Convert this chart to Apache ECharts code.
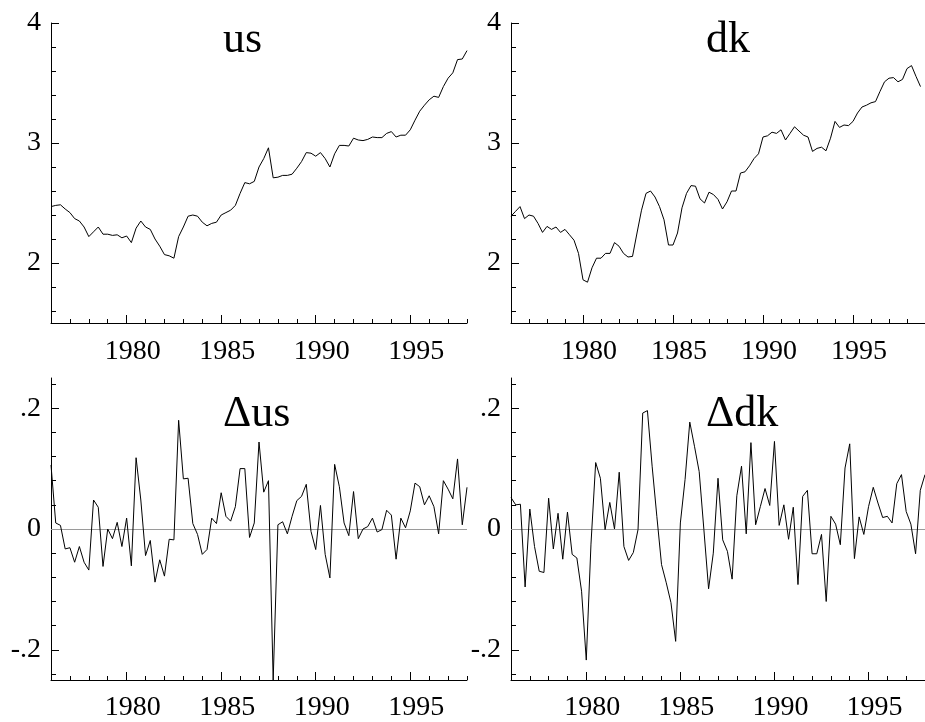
<!DOCTYPE html>
<html><head><meta charset="utf-8">
<script src="https://cdn.jsdelivr.net/npm/echarts@6/dist/echarts.min.js"></script>
<style>html,body{margin:0;padding:0;background:#fff}#c{width:925px;height:722px}</style>
</head><body><div id="c"></div>
<script>
const startYear = 1976;
const us = [2.47, 2.48, 2.485, 2.45, 2.42, 2.37, 2.35, 2.30, 2.22, 2.26,
  2.30, 2.24, 2.24, 2.23, 2.235, 2.21, 2.225, 2.17, 2.29, 2.35,
  2.30, 2.28, 2.20, 2.14, 2.07, 2.06, 2.04, 2.22, 2.30, 2.39,
  2.40, 2.39, 2.34, 2.31, 2.33, 2.34, 2.40, 2.42, 2.44, 2.48,
  2.58, 2.67, 2.66, 2.68, 2.80, 2.87, 2.96, 2.71, 2.715, 2.73,
  2.73, 2.74, 2.79, 2.845, 2.92, 2.915, 2.89, 2.92, 2.87, 2.80,
  2.91, 2.98, 2.98, 2.975, 3.04, 3.025, 3.02, 3.03, 3.05, 3.045,
  3.045, 3.08, 3.095, 3.05, 3.065, 3.065, 3.11, 3.19, 3.265, 3.315,
  3.36, 3.39, 3.38, 3.47, 3.54, 3.585, 3.695, 3.70, 3.77];
const dk = [2.39, 2.43, 2.47, 2.37, 2.40, 2.39, 2.33, 2.255, 2.305, 2.28,
  2.30, 2.255, 2.28, 2.235, 2.19, 2.08, 1.86, 1.84, 1.96, 2.04,
  2.04, 2.08, 2.08, 2.17, 2.14, 2.08, 2.05, 2.055, 2.25, 2.44,
  2.58, 2.60, 2.55, 2.47, 2.36, 2.15, 2.15, 2.25, 2.46, 2.58,
  2.645, 2.64, 2.535, 2.50, 2.59, 2.57, 2.53, 2.45, 2.51, 2.60,
  2.60, 2.75, 2.76, 2.81, 2.87, 2.91, 3.05, 3.06, 3.09, 3.08,
  3.11, 3.025, 3.08, 3.135, 3.10, 3.065, 3.05, 2.93, 2.955, 2.965,
  2.935, 3.04, 3.18, 3.13, 3.15, 3.145, 3.18, 3.25, 3.30, 3.315,
  3.335, 3.345, 3.43, 3.51, 3.54, 3.545, 3.51, 3.53, 3.62, 3.645,
  3.555, 3.47];
const dus = [0.106, 0.01, 0.006, -0.033, -0.031, -0.055, -0.029, -0.055, -0.068, 0.048,
  0.036, -0.062, 0, -0.016, 0.011, -0.029, 0.018, -0.061, 0.118, 0.048,
  -0.044, -0.019, -0.088, -0.051, -0.078, -0.017, -0.018, 0.18, 0.083, 0.084,
  0.009, -0.009, -0.042, -0.034, 0.018, 0.009, 0.06, 0.021, 0.013, 0.037,
  0.10, 0.10, -0.014, 0.01, 0.144, 0.061, 0.08, -0.25, 0.007, 0.012,
  -0.008, 0.021, 0.047, 0.054, 0.074, -0.004, -0.034, 0.039, -0.042, -0.081,
  0.107, 0.07, 0.01, -0.011, 0.062, -0.016, 0, 0.004, 0.018, -0.005,
  -0.001, 0.031, 0.023, -0.05, 0.018, 0.002, 0.03, 0.076, 0.07, 0.04,
  0.055, 0.037, -0.008, 0.08, 0.066, 0.05, 0.116, 0.007, 0.069];
const ddk = [0.052, 0.04, 0.041, -0.096, 0.033, -0.029, -0.07, -0.072, 0.051, -0.033,
  0.026, -0.05, 0.028, -0.042, -0.048, -0.103, -0.217, -0.025, 0.11, 0.084,
  -0.001, 0.044, 0, 0.094, -0.029, -0.052, -0.039, -0.001, 0.192, 0.196,
  0.104, 0.021, -0.059, -0.089, -0.122, -0.186, 0.01, 0.082, 0.177, 0.137,
  0.095, -0.001, -0.099, -0.04, 0.084, -0.018, -0.037, -0.083, 0.055, 0.104,
  -0.008, 0.143, 0.007, 0.037, 0.067, 0.039, 0.145, 0.006, 0.04, -0.017,
  0.036, -0.092, 0.054, 0.064, -0.041, -0.041, -0.009, -0.12, 0.021, 0.008,
  -0.026, 0.101, 0.141, -0.049, 0.02, -0.009, 0.037, 0.069, 0.043, 0.019,
  0.021, 0.01, 0.075, 0.09, 0.029, 0.008, -0.041, 0.064, 0.09];
const levelMajor = [2, 3, 4];
const levelMinor = [1.6, 1.8, 2.2, 2.4, 2.6, 2.8, 3.2, 3.4, 3.6, 3.8];
const diffMajor = [-0.2, 0, 0.2];
const diffMinor = [-0.24, -0.16, -0.12, -0.08, -0.04, 0.04, 0.08, 0.12, 0.16, 0.24];
const yearMajor = [1980, 1985, 1990, 1995];
const yearMinor = [1977, 1978, 1979, 1981, 1982, 1983, 1984, 1986, 1987, 1988, 1989,
  1991, 1992, 1993, 1994, 1996, 1997, 1998, 1999];
const titles = ['us', 'dk', 'Δus', 'Δdk'];

const FONT = 'Liberation Serif';
function pts(arr) { return arr.map((v, i) => [startYear + i / 4, v]); }
function diffFmt(v) {
  if (Math.abs(v) < 1e-9) return '0';
  return (v < 0 ? '-' : '') + String(Math.abs(v)).replace(/^0/, '');
}

const panels = [
  { grid: { left: 51, top: 23, width: 416, height: 300 }, xmax: 1998, ymin: 1.5, ymax: 4, major: levelMajor, minor: levelMinor, fmt: v => String(v), data: us, title: titles[0], tx: 223, ty: 40, lblMargin: 15 },
  { grid: { left: 511, top: 23, width: 416, height: 300 }, xmax: 1999, ymin: 1.5, ymax: 4, major: levelMajor, minor: levelMinor, fmt: v => String(v), data: dk, title: titles[1], tx: 706, ty: 40, lblMargin: 15 },
  { grid: { left: 51, top: 378, width: 416, height: 302 }, xmax: 1998, ymin: -0.25, ymax: 0.25, major: diffMajor, minor: diffMinor, fmt: diffFmt, data: dus, title: titles[2], tx: 223, ty: 414, lblMargin: 14, zero: true },
  { grid: { left: 511, top: 378, width: 416, height: 302 }, xmax: 1998, ymin: -0.25, ymax: 0.25, major: diffMajor, minor: diffMinor, fmt: diffFmt, data: ddk, title: titles[3], tx: 706, ty: 414, lblMargin: 14, zero: true }
];

const option = { animation: false, backgroundColor: '#fff', grid: [], xAxis: [], yAxis: [], series: [], graphic: [] };
panels.forEach((p, g) => {
  option.grid.push(p.grid);
  // main x axis
  option.xAxis.push({
    type: 'value', gridIndex: g, position: 'bottom', min: startYear, max: p.xmax,
    axisLine: { show: true, onZero: false, lineStyle: { color: '#000', width: 1 } },
    axisTick: { show: true, inside: true, length: 8, customValues: yearMajor, lineStyle: { color: '#000', width: 1 } },
    axisLabel: { show: true, customValues: yearMajor, margin: p.lblMargin, padding: [0, 0, 0, 12], color: '#000', fontFamily: FONT, fontSize: 28, formatter: v => String(v) },
    splitLine: { show: false }
  });
  option.xAxis.push({
    type: 'value', gridIndex: g, position: 'bottom', min: startYear, max: p.xmax,
    axisLine: { show: false, onZero: false },
    axisTick: { show: true, inside: true, length: 4, customValues: yearMinor, lineStyle: { color: '#000', width: 1 } },
    axisLabel: { show: false },
    splitLine: { show: false }
  });
  option.yAxis.push({
    type: 'value', gridIndex: g, position: 'left', min: p.ymin, max: p.ymax,
    axisLine: { show: true, onZero: false, lineStyle: { color: '#000', width: 1 } },
    axisTick: { show: true, inside: true, length: 8, customValues: p.major, lineStyle: { color: '#000', width: 1 } },
    axisLabel: { show: true, customValues: p.major, margin: 10, color: '#000', fontFamily: FONT, fontSize: 28, formatter: p.fmt },
    splitLine: { show: false }
  });
  option.yAxis.push({
    type: 'value', gridIndex: g, position: 'left', min: p.ymin, max: p.ymax,
    axisLine: { show: false, onZero: false },
    axisTick: { show: true, inside: true, length: 5, customValues: p.minor, lineStyle: { color: '#000', width: 1 } },
    axisLabel: { show: false },
    splitLine: { show: false }
  });
  const s = {
    type: 'line', xAxisIndex: g * 2, yAxisIndex: g * 2, data: pts(p.data),
    showSymbol: false, symbol: 'none', z: 5,
    lineStyle: { color: '#000', width: 1 }, silent: true
  };
  if (p.zero) {
    s.markLine = { silent: true, symbol: 'none', z: 1, label: { show: false },
      lineStyle: { color: '#9a9a9a', width: 1, type: 'solid' }, data: [{ yAxis: 0 }] };
  }
  option.series.push(s);
  option.graphic.push({
    type: 'text', x: p.tx, y: p.ty,
    style: { text: p.title, font: '44px "Liberation Serif"', fill: '#000', textAlign: 'left', textVerticalAlign: 'middle', align: 'left', verticalAlign: 'middle' }
  });
});

const chart = echarts.init(document.getElementById('c'), null, { renderer: 'canvas' });
chart.setOption(option);
</script>
</body></html>
